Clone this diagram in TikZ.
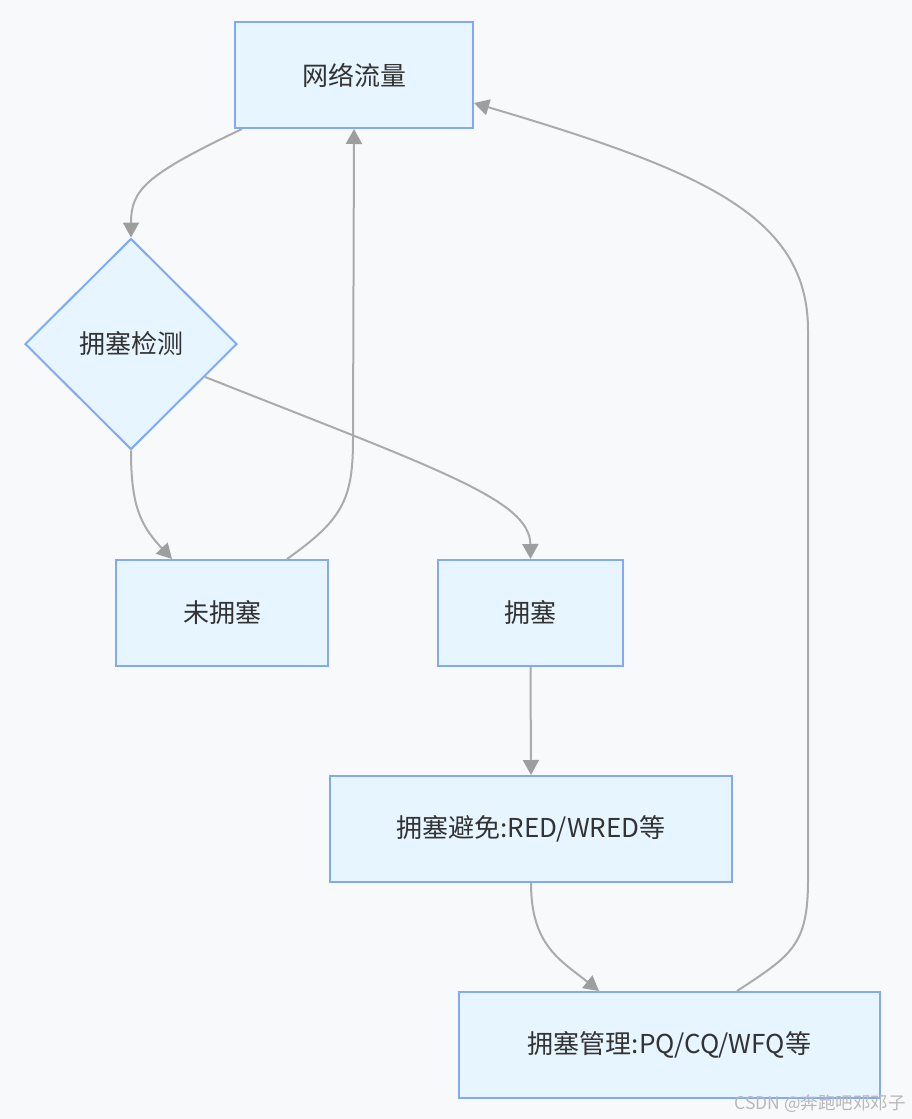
\documentclass[tikz,border=0pt]{standalone}
\usepackage{fontspec}
\setmainfont{Noto Sans CJK SC}
\usetikzlibrary{shapes.geometric,arrows.meta,calc}
\definecolor{bg}{HTML}{F8F9FB}
\definecolor{boxfill}{HTML}{E6F5FF}
\definecolor{boxline}{HTML}{80AAF8}
\definecolor{edgecol}{HTML}{ABABAB}
\definecolor{tipcol}{HTML}{9E9E9E}
\definecolor{txt}{HTML}{333333}
\definecolor{wm}{HTML}{B8B8B8}
\begin{document}
\begin{tikzpicture}[x=1pt,y=-1pt,
  box/.style={draw=boxline,fill=boxfill,line width=2pt,inner sep=0pt,text=txt,font=\fontsize{26}{30}\selectfont},
  dia/.style={diamond,draw=boxline,fill=boxfill,line width=2pt,inner sep=0pt,text=txt,font=\fontsize{26}{30}\selectfont,minimum width=212pt,minimum height=211pt},
  conn/.style={draw=edgecol,line width=2pt,-{Triangle[length=15pt,width=16pt,fill=tipcol,color=tipcol]}}]
\fill[bg] (0,0) rectangle (912,1119);
\useasboundingbox (0,0) rectangle (912,1119);
\node[box,minimum width=238pt,minimum height=106pt] (net) at (354,75) {网络流量};
\node[dia] (det) at (131,344) {拥塞检测};
\node[box,minimum width=212pt,minimum height=106pt] (un) at (222,613) {未拥塞};
\node[box,minimum width=185pt,minimum height=106pt] (cong) at (530.5,613) {拥塞};
\node[box,minimum width=402pt,minimum height=106pt] (avoid) at (531,829) {拥塞避免:RED/WRED等};
\node[box,minimum width=421pt,minimum height=106pt] (mgmt) at (669.5,1045) {拥塞管理:PQ/CQ/WFQ等};
\node[anchor=east,text=wm,font=\fontsize{17.5}{20}\selectfont,inner sep=0pt] (wmark) at (906,1104) {CSDN @奔跑吧邓邓子};
% edges
\draw[conn] ($(net.south west)+(8,0)$) .. controls (145,175) and (131,190) .. (det.north);
\draw[conn] (det.south) .. controls (131,505) and (140,525) .. ($(un.north west)+(57,0)$);
\draw[conn] (det.-24) .. controls (440,470) and (530,500) .. (cong.north);
\draw[conn] ($(un.north west)+(172,0)$) .. controls (342,520) and (353,500) .. (353,440) -- (net.south);
\draw[conn] (cong.south) -- (avoid.north);
\draw[conn] (avoid.south) .. controls (531,945) and (560,960) .. ($(mgmt.north west)+(141,0)$);
\draw[conn] ($(mgmt.north west)+(279,0)$) .. controls (792,955) and (808,945) .. (808,880) -- (808,330) .. controls (808,215) and (700,170) .. ($(net.south east)+(0,-26)$);
\end{tikzpicture}
\end{document}
